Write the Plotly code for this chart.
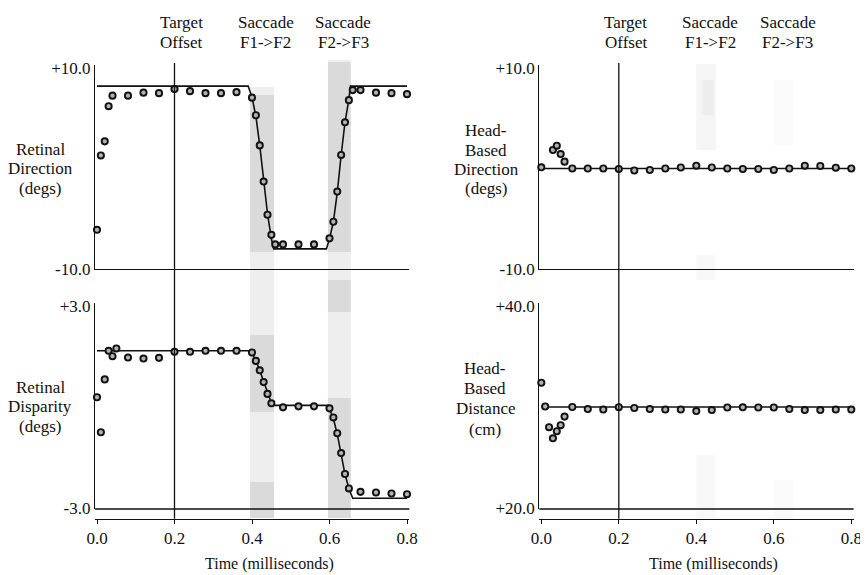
import plotly.graph_objects as go

# ---------------- data ----------------
# Retinal direction (top-left)
t_rdir = [0.00, 0.01, 0.02, 0.03, 0.04, 0.08, 0.12, 0.16, 0.20, 0.24, 0.28, 0.32, 0.36,
          0.40, 0.41, 0.42, 0.43, 0.44, 0.45, 0.46, 0.48, 0.52, 0.56,
          0.60, 0.61, 0.62, 0.63, 0.64, 0.65, 0.66, 0.68, 0.72, 0.76, 0.80]
rdir = [-6.1, 1.3, 2.7, 6.2, 7.25, 7.25, 7.55, 7.5, 7.9, 7.7, 7.5, 7.5, 7.6,
        7.05, 5.3, 2.3, -1.3, -4.6, -6.6, -7.55, -7.55, -7.55, -7.55,
        -6.95, -5.3, -2.3, 1.35, 4.6, 6.8, 7.8, 7.8, 7.55, 7.5, 7.4]
t_rdir_model = [0.0, 0.39, 0.40, 0.41, 0.42, 0.43, 0.44, 0.45, 0.456, 0.592,
                0.60, 0.61, 0.62, 0.63, 0.64, 0.65, 0.654, 0.80]
rdir_model = [8.2, 8.2, 7.1, 5.2, 2.3, -1.2, -4.5, -7.0, -8.0, -8.0,
              -7.0, -5.3, -2.4, 1.3, 4.6, 6.9, 8.2, 8.2]

# Retinal disparity (bottom-left)
t_rdisp = [0.00, 0.01, 0.02, 0.03, 0.04, 0.05, 0.08, 0.12, 0.16, 0.20, 0.24, 0.28, 0.32, 0.36,
           0.40, 0.41, 0.42, 0.43, 0.44, 0.45, 0.48, 0.52, 0.56,
           0.60, 0.61, 0.62, 0.63, 0.64, 0.65, 0.68, 0.72, 0.76, 0.80]
rdisp = [0.29, -0.75, 0.82, 1.67, 1.51, 1.74, 1.47, 1.44, 1.46, 1.64, 1.64, 1.67, 1.67, 1.67,
         1.62, 1.37, 1.09, 0.74, 0.39, 0.11, -0.01, 0.02, 0.02,
         -0.04, -0.31, -0.78, -1.37, -1.99, -2.42, -2.52, -2.54, -2.57, -2.59]
t_rdisp_model = [0.0, 0.39, 0.40, 0.41, 0.42, 0.43, 0.44, 0.45, 0.455, 0.597,
                 0.60, 0.61, 0.62, 0.63, 0.64, 0.65, 0.66, 0.80]
rdisp_model = [1.67, 1.67, 1.6, 1.38, 1.08, 0.74, 0.4, 0.12, 0.05, 0.05,
               -0.05, -0.35, -0.8, -1.4, -2.0, -2.42, -2.71, -2.71]

# Head-based direction (top-right)
t_head = [0.00, 0.03, 0.04, 0.05, 0.06, 0.08, 0.12, 0.16, 0.20, 0.24, 0.28, 0.32, 0.36,
          0.40, 0.44, 0.48, 0.52, 0.56, 0.60, 0.64, 0.68, 0.72, 0.76, 0.80]
hdir = [0.12, 1.84, 2.27, 1.44, 0.68, 0.0, 0.0, 0.0, -0.05, -0.2, -0.15, 0.0, 0.1,
        0.28, 0.1, 0.0, -0.05, -0.05, -0.15, 0.0, 0.28, 0.25, 0.08, 0.0]
t_hdir_model = [0.0, 0.80]
hdir_model = [0.0, 0.0]

# Head-based distance (bottom-right)
t_hdist = [0.00, 0.01, 0.02, 0.03, 0.04, 0.05, 0.06, 0.08, 0.12, 0.16, 0.20, 0.24, 0.28, 0.32, 0.36,
           0.40, 0.44, 0.48, 0.52, 0.56, 0.60, 0.64, 0.68, 0.72, 0.76, 0.80]
hdist = [32.4, 30.05, 28.0, 26.9, 27.6, 28.2, 29.05, 30.0, 29.8, 29.75, 29.98, 29.9, 29.8, 29.75, 29.75,
         29.6, 29.7, 29.95, 29.97, 29.95, 29.95, 29.8, 29.7, 29.7, 29.75, 29.75]
t_hdist_model = [0.0, 0.80]
hdist_model = [30.0, 30.0]

x_ticks = [0.0, 0.2, 0.4, 0.6, 0.8]
x_ticktext = ["0.0", "0.2", "0.4", "0.6", "0.8"]

events = [(0.218, "Target", "Offset"), (0.436, "Saccade", "F1->F2"), (0.636, "Saccade", "F2->F3")]
saccade_bands = [(0.395, 0.457), (0.596, 0.655)]

# ---------------- layout helpers ----------------
# the page body has an 8px margin, so the figure is 8px smaller and offset by 8px
OFF = 8
W, H = 868 - OFF, 575 - OFF
FONT = "Liberation Serif, Times New Roman, serif"
INK = "#111111"


def PX(p):
    return (p - OFF) / W


def PY(p):
    return 1 - (p - OFF) / H


xr = [-0.005, 0.806]
LD = [PX(95.06), PX(409.33)]
RD = [PX(539.36), PX(853.63)]
TD = [PY(269), PY(65)]
BD = [PY(509), PY(303)]
fnt = dict(family=FONT, size=17, color=INK)
fnt_title = dict(family=FONT, size=16, color=INK)

fig = go.Figure()

marker = dict(symbol="circle", size=6.2, color="#b3b3b3", line=dict(color=INK, width=1.9))
line = dict(color=INK, width=1.6)

for xa, ya, tm, ym, td, yd in [
    ("x", "y", t_rdir_model, rdir_model, t_rdir, rdir),
    ("x3", "y3", t_rdisp_model, rdisp_model, t_rdisp, rdisp),
    ("x2", "y2", t_hdir_model, hdir_model, t_head, hdir),
    ("x4", "y4", t_hdist_model, hdist_model, t_hdist, hdist),
]:
    fig.add_trace(go.Scatter(x=tm, y=ym, mode="lines", line=line, xaxis=xa, yaxis=ya,
                             showlegend=False, hoverinfo="skip", cliponaxis=False))
    fig.add_trace(go.Scatter(x=td, y=yd, mode="markers", marker=marker, xaxis=xa, yaxis=ya,
                             showlegend=False, cliponaxis=False))

ax_common = dict(showgrid=False, zeroline=False, showline=True, linecolor=INK, linewidth=1.3,
                 tickfont=fnt, fixedrange=True, automargin=False)

fig.update_layout(
    template="none",
    width=W, height=H, autosize=False,
    margin=dict(l=0, r=0, t=0, b=0, pad=0, autoexpand=False),
    paper_bgcolor="white", plot_bgcolor="rgba(0,0,0,0)",
    font=fnt, showlegend=False,
    xaxis=dict(domain=LD, range=xr, anchor="y", showticklabels=False, ticks="", **ax_common),
    xaxis2=dict(domain=RD, range=xr, anchor="y2", showticklabels=False, ticks="", **ax_common),
    xaxis3=dict(domain=LD, range=xr, anchor="free", position=PY(518.7), ticks="outside",
                ticklen=4, tickwidth=1.3, tickcolor=INK, tickvals=x_ticks, ticktext=x_ticktext,
                **ax_common),
    xaxis4=dict(domain=RD, range=xr, anchor="free", position=PY(518.7), ticks="outside",
                ticklen=4, tickwidth=1.3, tickcolor=INK, tickvals=x_ticks, ticktext=x_ticktext,
                **ax_common),
    yaxis=dict(domain=TD, range=[-10, 10.3], anchor="x", ticks="", tickvals=[-10, 10],
               ticktext=["-10.0", "+10.0"], **ax_common),
    yaxis2=dict(domain=TD, range=[-10, 10.3], anchor="x2", ticks="", tickvals=[-10, 10],
                ticktext=["-10.0", "+10.0"], **ax_common),
    yaxis3=dict(domain=BD, range=[-3.03, 3.09], anchor="x3", ticks="", tickvals=[-3, 3],
                ticktext=["-3.0", "+3.0"], **ax_common),
    yaxis4=dict(domain=BD, range=[19.9, 40.3], anchor="x4", ticks="", tickvals=[20, 40],
                ticktext=["+20.0", "+40.0"], **ax_common),
)

shapes = []
# saccade shading (left panels, textured grey approximated by layered rects)
base = "rgba(150,150,150,0.16)"
dark = "rgba(120,120,120,0.16)"
(b1a, b1b), (b2a, b2b) = saccade_bands
for x0, x1, ytop in [(b1a, b1b, 87), (b2a, b2b, 60)]:
    shapes.append(dict(type="rect", xref="x", yref="paper", x0=x0, x1=x1, y0=PY(518), y1=PY(ytop),
                       fillcolor=base, line=dict(width=0), layer="below"))
for x0, x1, ya, yb in [(b1a, b1b, 95, 252), (b2a, b2b, 62, 252),
                       (b1a, b1b, 335, 412), (b1a, b1b, 482, 518),
                       (b2a, b2b, 280, 312), (b2a, b2b, 398, 518)]:
    shapes.append(dict(type="rect", xref="x", yref="paper", x0=x0, x1=x1, y0=PY(yb), y1=PY(ya),
                       fillcolor=dark, line=dict(width=0), layer="below"))
# faint shading on the right panels
for x0, x1, ya, yb, op in [(0.40, 0.45, 64, 150, 0.07), (0.415, 0.445, 80, 115, 0.06),
                           (0.60, 0.65, 80, 145, 0.04), (0.40, 0.45, 255, 280, 0.05),
                           (0.40, 0.45, 455, 518, 0.05), (0.60, 0.65, 480, 518, 0.04)]:
    shapes.append(dict(type="rect", xref="x2", yref="paper", x0=x0, x1=x1, y0=PY(yb), y1=PY(ya),
                       fillcolor=f"rgba(120,120,120,{op})", line=dict(width=0), layer="below"))

# target-offset vertical lines
for xa in ["x", "x2"]:
    shapes.append(dict(type="line", xref=xa, yref="paper", x0=0.2, x1=0.2,
                       y0=PY(518.7), y1=PY(63), line=dict(color=INK, width=1.3)))
# bottom baselines of lower panels
for xa, ya in [("x3", "y3"), ("x4", "y4")]:
    shapes.append(dict(type="line", xref=f"{xa} domain", yref=f"{ya} domain", x0=0, x1=1,
                       y0=0, y1=0, line=dict(color=INK, width=1.3)))
fig.update_layout(shapes=shapes)

ann = []
for xa in ["x", "x2"]:
    for xv, l1, l2 in events:
        ann.append(dict(xref=xa, yref="paper", x=xv, y=PY(22), text=l1, showarrow=False,
                        font=fnt, xanchor="center", yanchor="middle"))
        ann.append(dict(xref=xa, yref="paper", x=xv, y=PY(42), text=l2, showarrow=False,
                        font=fnt, xanchor="center", yanchor="middle"))
    ann.append(dict(xref=xa, yref="paper", x=0.445, y=PY(563.5), text="Time (milliseconds)",
                    showarrow=False, font=fnt_title, xanchor="center", yanchor="middle"))

ytitles = [
    (40, [("Retinal", 149.5), ("Direction", 169), ("(degs)", 188.5)]),
    (40, [("Retinal", 387), ("Disparity", 406.5), ("(degs)", 426)]),
    (486, [("Head-", 130.5), ("Based", 150), ("Direction", 169.5), ("(degs)", 189)]),
    (485, [("Head-", 368.5), ("Based", 388.5), ("Distance", 408.5), ("(cm)", 429)]),
]
for xc, lines in ytitles:
    for txt, yc in lines:
        ann.append(dict(xref="paper", yref="paper", x=PX(xc), y=PY(yc), text=txt,
                        showarrow=False, font=fnt, xanchor="center", yanchor="middle"))
fig.update_layout(annotations=ann)

fig.write_html("out.html")
